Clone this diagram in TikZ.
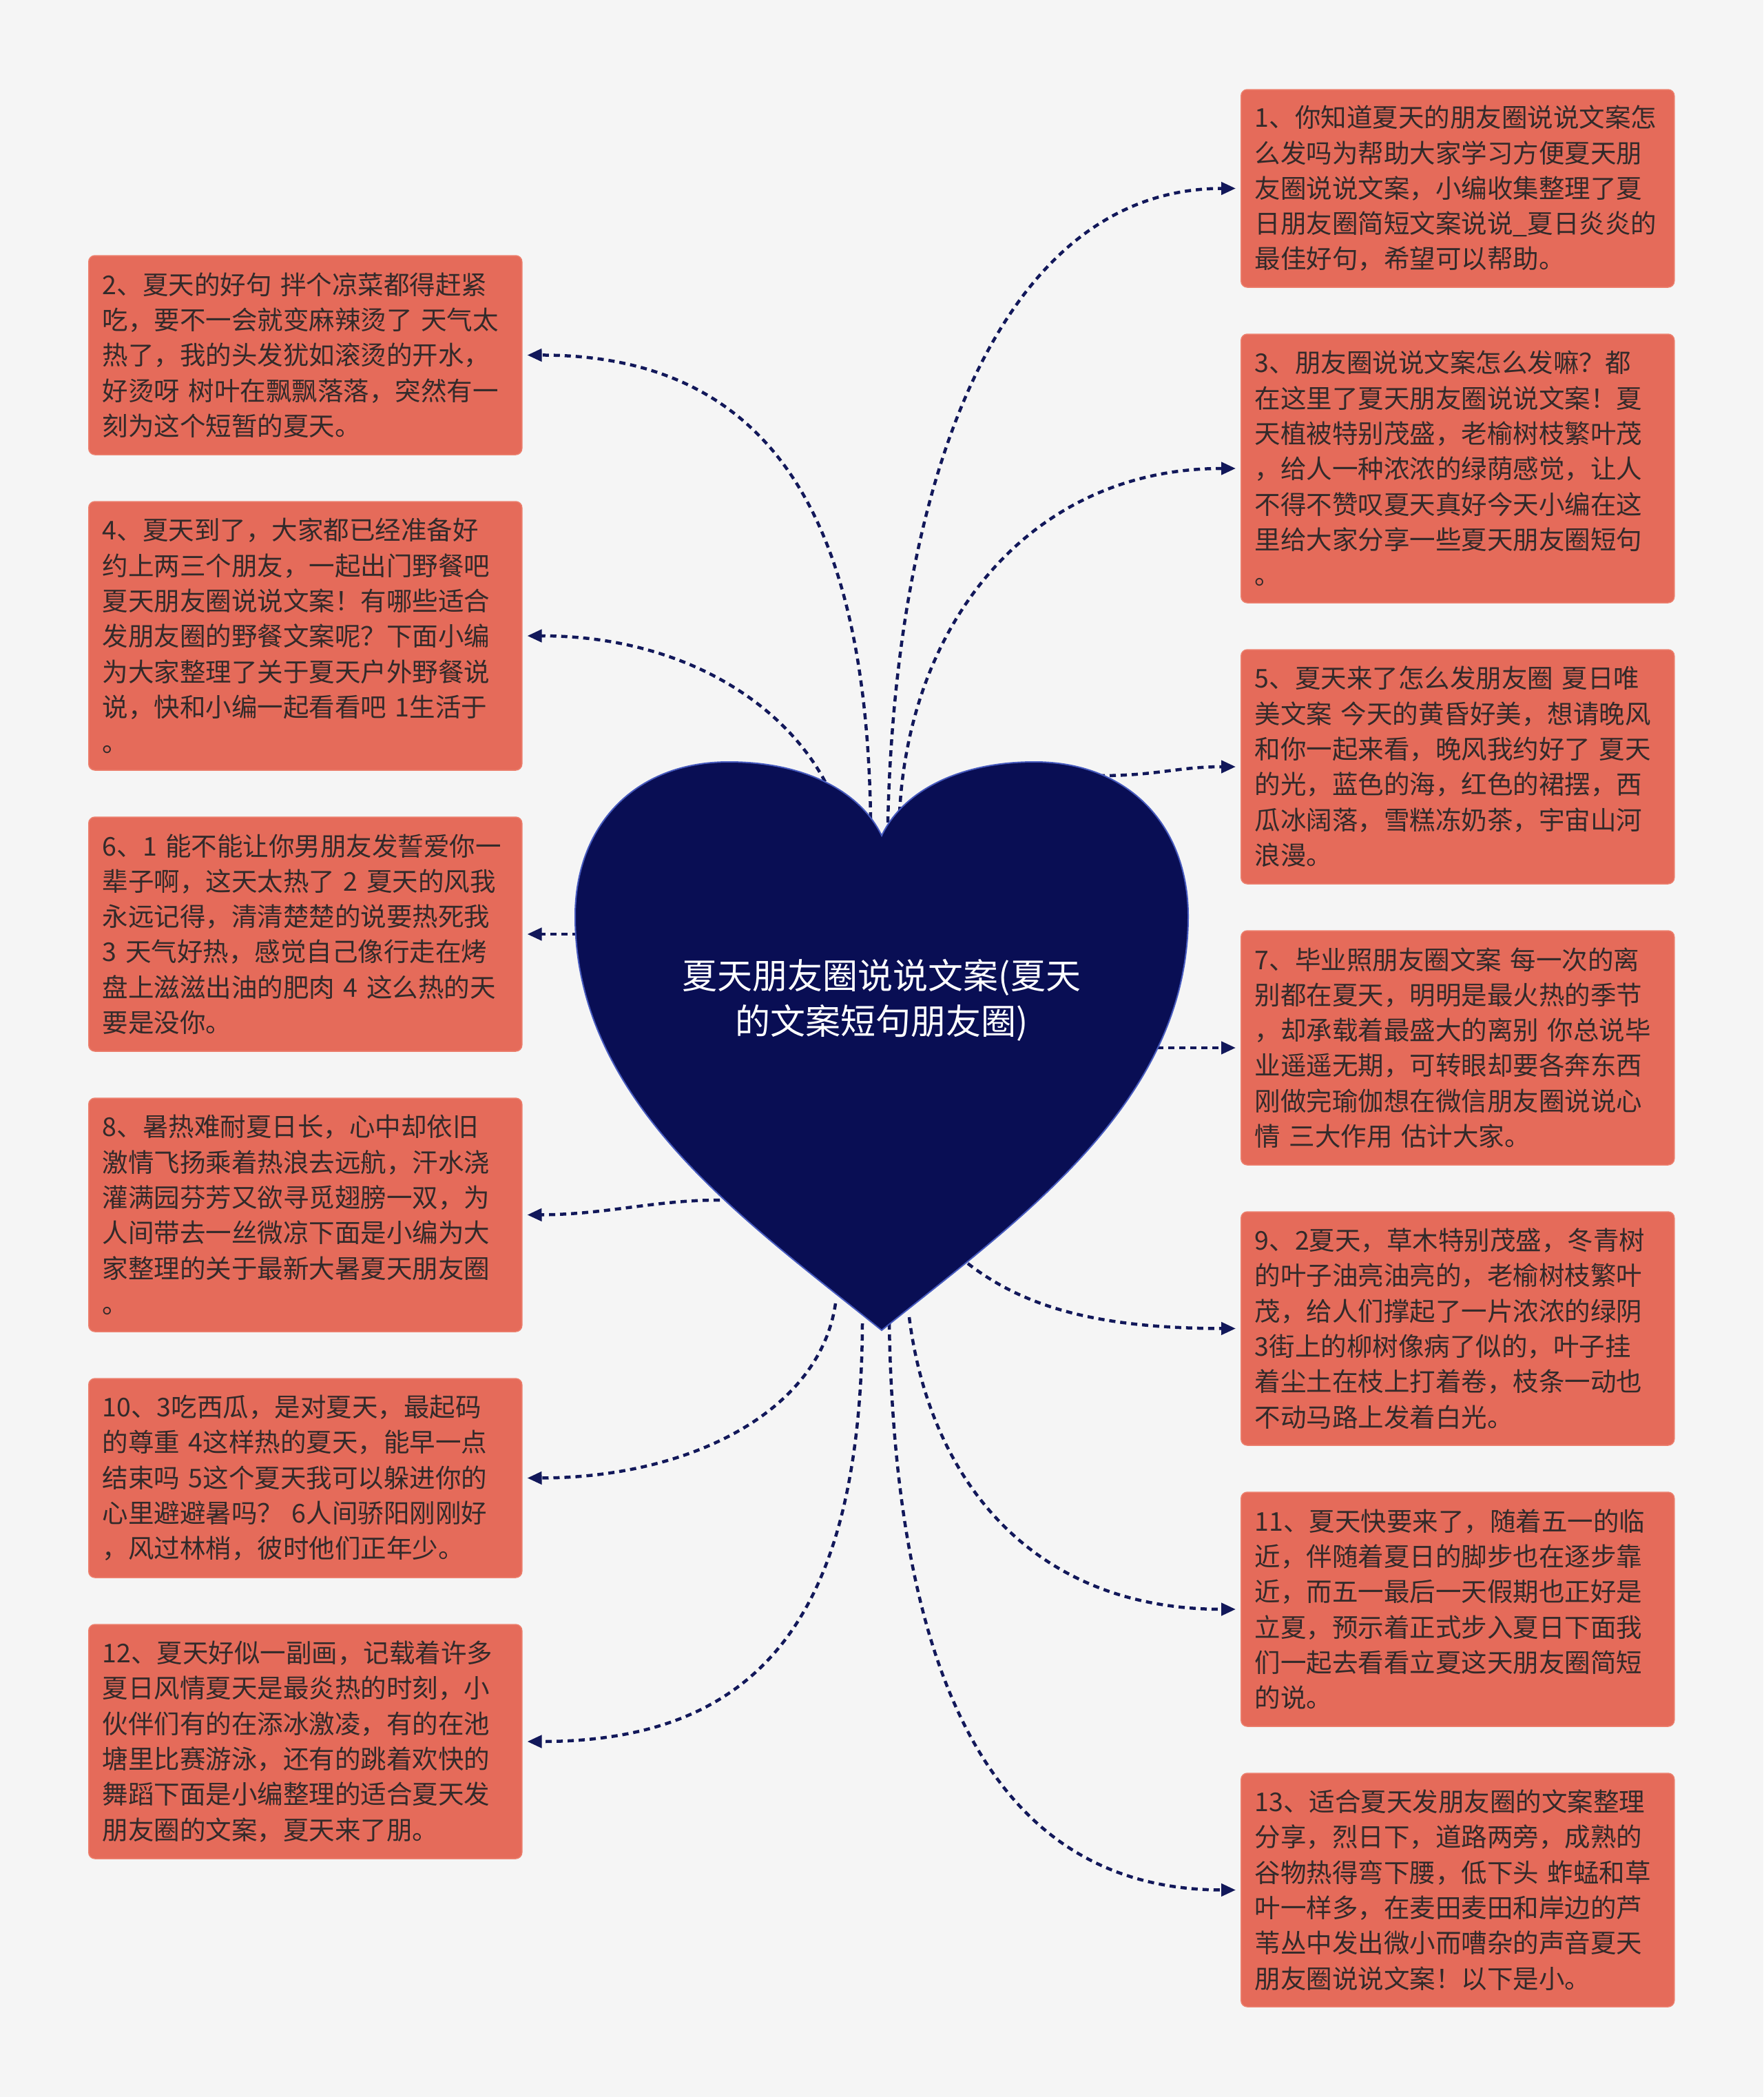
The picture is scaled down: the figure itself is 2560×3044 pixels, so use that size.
\documentclass[tikz,border=0pt]{standalone}
\usepackage{fontspec}
\newfontfamily\cjk{Noto Sans CJK SC}
\usetikzlibrary{arrows.meta}
\definecolor{bgc}{RGB}{245,245,245}
\definecolor{boxc}{RGB}{229,107,90}
\definecolor{boxl}{RGB}{236,128,110}
\definecolor{txtc}{RGB}{51,42,42}
\definecolor{navy}{RGB}{9,14,84}
\definecolor{heartl}{RGB}{70,90,190}
\definecolor{linkc}{RGB}{18,24,90}

\begin{document}
\begin{tikzpicture}[x=1pt,y=-1pt,
    box/.style={rectangle, rounded corners=9pt, fill=boxc, draw=boxl, line width=1.5pt,
      text width=589pt, inner xsep=20pt, inner ysep=0pt, align=left, anchor=west,
      text=txtc, font=\cjk\fontsize{37.5}{51.3}\selectfont},
    title/.style={text=white, align=center, font=\cjk\fontsize{51}{66}\selectfont},
    link/.style={draw=linkc, line width=4.5pt, dash pattern=on 9pt off 7pt,
      -{Triangle[length=21pt,width=18pt]}, shorten >=7pt}]
    \fill[bgc] (0,0) rectangle (2560,3044);

    % left column
    \node[box, minimum height=289pt] (b2) at (128,515.5) {2、夏天的好句 拌个凉菜都得赶紧\\
      吃，要不一会就变麻辣烫了 天气太\\
      热了，我的头发犹如滚烫的开水，\\
      好烫呀 树叶在飘飘落落，突然有一\\
      刻为这个短暂的夏天。};
    \node[box, minimum height=390pt] (b4) at (128,923) {4、夏天到了，大家都已经准备好\\
      约上两三个朋友，一起出门野餐吧\\
      夏天朋友圈说说文案！有哪些适合\\
      发朋友圈的野餐文案呢？下面小编\\
      为大家整理了关于夏天户外野餐说\\
      说，快和小编一起看看吧 1生活于\\
      。};
    \node[box, minimum height=340pt] (b6) at (128,1356) {6、1 能不能让你男朋友发誓爱你一\\
      辈子啊，这天太热了 2 夏天的风我\\
      永远记得，清清楚楚的说要热死我\\
      3 天气好热，感觉自己像行走在烤\\
      盘上滋滋出油的肥肉 4 这么热的天\\
      要是没你。};
    \node[box, minimum height=339pt] (b8) at (128,1763.5) {8、暑热难耐夏日长，心中却依旧\\
      激情飞扬乘着热浪去远航，汗水浇\\
      灌满园芬芳又欲寻觅翅膀一双，为\\
      人间带去一丝微凉下面是小编为大\\
      家整理的关于最新大暑夏天朋友圈\\
      。};
    \node[box, minimum height=289pt] (b10) at (128,2145.5) {10、3吃西瓜，是对夏天，最起码\\
      的尊重 4这样热的夏天，能早一点\\
      结束吗 5这个夏天我可以躲进你的\\
      心里避避暑吗？ 6人间骄阳刚刚好\\
      ，风过林梢，彼时他们正年少。};
    \node[box, minimum height=340pt] (b12) at (128,2528) {12、夏天好似一副画，记载着许多\\
      夏日风情夏天是最炎热的时刻，小\\
      伙伴们有的在添冰激凌，有的在池\\
      塘里比赛游泳，还有的跳着欢快的\\
      舞蹈下面是小编整理的适合夏天发\\
      朋友圈的文案，夏天来了朋。};

    % right column
    \node[box, minimum height=287pt] (b1) at (1801,273.5) {1、你知道夏天的朋友圈说说文案怎\\
      么发吗为帮助大家学习方便夏天朋\\
      友圈说说文案，小编收集整理了夏\\
      日朋友圈简短文案说说\_夏日炎炎的\\
      最佳好句，希望可以帮助。};
    \node[box, minimum height=390pt] (b3) at (1801,680) {3、朋友圈说说文案怎么发嘛？都\\
      在这里了夏天朋友圈说说文案！夏\\
      天植被特别茂盛，老榆树枝繁叶茂\\
      ，给人一种浓浓的绿荫感觉，让人\\
      不得不赞叹夏天真好今天小编在这\\
      里给大家分享一些夏天朋友圈短句\\
      。};
    \node[box, minimum height=340pt] (b5) at (1801,1113) {5、夏天来了怎么发朋友圈 夏日唯\\
      美文案 今天的黄昏好美，想请晚风\\
      和你一起来看，晚风我约好了 夏天\\
      的光，蓝色的海，红色的裙摆，西\\
      瓜冰阔落，雪糕冻奶茶，宇宙山河\\
      浪漫。};
    \node[box, minimum height=340pt] (b7) at (1801,1521) {7、毕业照朋友圈文案 每一次的离\\
      别都在夏天，明明是最火热的季节\\
      ，却承载着最盛大的离别 你总说毕\\
      业遥遥无期，可转眼却要各奔东西\\
      刚做完瑜伽想在微信朋友圈说说心\\
      情 三大作用 估计大家。};
    \node[box, minimum height=339pt] (b9) at (1801,1928.5) {9、2夏天，草木特别茂盛，冬青树\\
      的叶子油亮油亮的，老榆树枝繁叶\\
      茂，给人们撑起了一片浓浓的绿阴\\
      3街上的柳树像病了似的，叶子挂\\
      着尘土在枝上打着卷，枝条一动也\\
      不动马路上发着白光。};
    \node[box, minimum height=340pt] (b11) at (1801,2336) {11、夏天快要来了，随着五一的临\\
      近，伴随着夏日的脚步也在逐步靠\\
      近，而五一最后一天假期也正好是\\
      立夏，预示着正式步入夏日下面我\\
      们一起去看看立夏这天朋友圈简短\\
      的说。};
    \node[box, minimum height=339pt] (b13) at (1801,2743.5) {13、适合夏天发朋友圈的文案整理\\
      分享，烈日下，道路两旁，成熟的\\
      谷物热得弯下腰，低下头 蚱蜢和草\\
      叶一样多，在麦田麦田和岸边的芦\\
      苇丛中发出微小而嘈杂的声音夏天\\
      朋友圈说说文案！以下是小。};

    % where the links leave the heart
    \coordinate (h1) at (1289,1194);
    \coordinate (h2) at (1264,1188);
    \coordinate (h3) at (1306,1180);
    \coordinate (h4) at (1205,1149);
    \coordinate (h5) at (1595,1126);
    \coordinate (h6) at (840,1356);
    \coordinate (h7) at (1680,1521);
    \coordinate (h8) at (1045,1742);
    \coordinate (h9) at (1405,1834);
    \coordinate (h10) at (1213,1892);
    \coordinate (h11) at (1320,1912);
    \coordinate (h12) at (1252,1921);
    \coordinate (h13) at (1291,1921);

    \draw[link] (h1) .. controls (1300,700) and (1450,274) .. (b1.west);
    \draw[link] (h2) .. controls (1258,800) and (1150,515) .. (b2.east);
    \draw[link] (h3) .. controls (1320,900) and (1500,680) .. (b3.west);
    \draw[link] (h4) .. controls (1150,1030) and (1000,923) .. (b4.east);
    \draw[link] (h5) .. controls (1680,1126) and (1710,1113) .. (b5.west);
    \draw[link] (h6) -- (b6.east);
    \draw[link] (h7) -- (b7.west);
    \draw[link] (h8) .. controls (950,1742) and (880,1763) .. (b8.east);
    \draw[link] (h9) .. controls (1490,1900) and (1600,1928) .. (b9.west);
    \draw[link] (h10) .. controls (1190,2050) and (1000,2145) .. (b10.east);
    \draw[link] (h11) .. controls (1350,2150) and (1500,2336) .. (b11.west);
    \draw[link] (h12) .. controls (1250,2350) and (1100,2528) .. (b12.east);
    \draw[link] (h13) .. controls (1300,2450) and (1450,2743) .. (b13.west);

    % the heart
    \path[fill=navy, draw=heartl, line width=2pt] (1280,1213)
      .. controls (1250,1150) and (1170,1106) .. (1058,1106)
      .. controls (920,1106) and (835,1200) .. (835,1330)
      .. controls (835,1600) and (1080,1770) .. (1280,1931)
      .. controls (1480,1770) and (1725,1600) .. (1725,1330)
      .. controls (1725,1200) and (1640,1106) .. (1502,1106)
      .. controls (1390,1106) and (1310,1150) .. (1280,1213) -- cycle;
    \node[title] (root) at (1280,1452) {夏天朋友圈说说文案(夏天\\的文案短句朋友圈)};
  \end{tikzpicture}
\end{document}
